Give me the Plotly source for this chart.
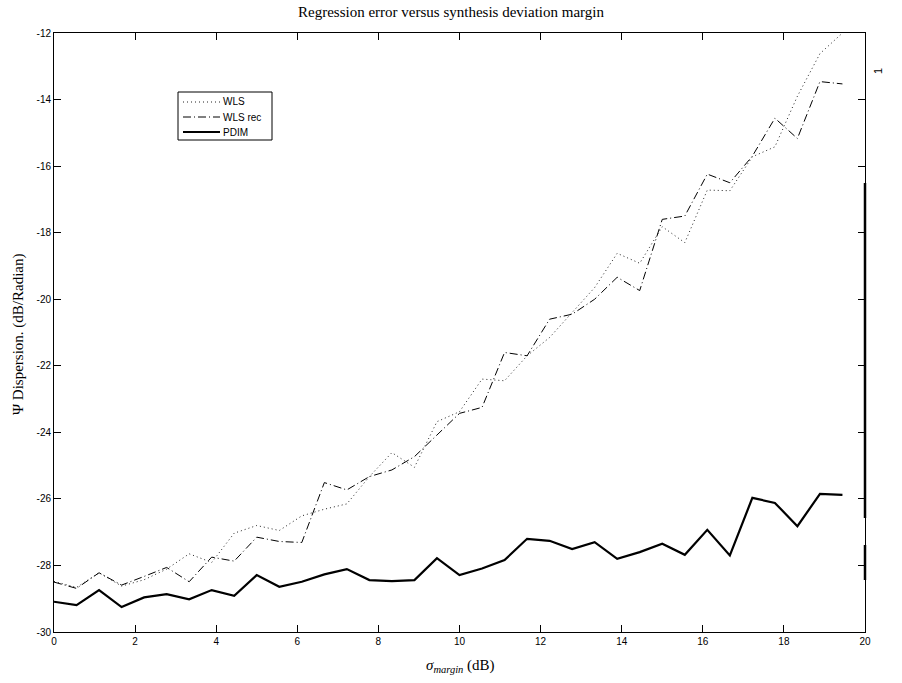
import plotly.graph_objects as go

# x positions: 36 samples from 0 to 19.44 (step 20/36)
x_vals = [0.0, 0.556, 1.111, 1.667, 2.222, 2.778, 3.333, 3.889, 4.444, 5.0,
          5.556, 6.111, 6.667, 7.222, 7.778, 8.333, 8.889, 9.444, 10.0, 10.556,
          11.111, 11.667, 12.222, 12.778, 13.333, 13.889, 14.444, 15.0, 15.556, 16.111,
          16.667, 17.222, 17.778, 18.333, 18.889, 19.444]

wls = [-28.48, -28.66, -28.22, -28.62, -28.43, -28.11, -27.65, -27.91, -27.03, -26.80,
       -26.95, -26.51, -26.31, -26.15, -25.33, -24.61, -25.05, -23.68, -23.38, -22.40,
       -22.45, -21.70, -21.15, -20.40, -19.65, -18.62, -18.92, -17.82, -18.30, -16.72,
       -16.74, -15.72, -15.42, -13.90, -12.62, -12.00]

wls_rec = [-28.50, -28.69, -28.22, -28.59, -28.33, -28.06, -28.49, -27.75, -27.87, -27.15,
           -27.28, -27.31, -25.51, -25.73, -25.33, -25.13, -24.73, -24.08, -23.43, -23.25,
           -21.60, -21.70, -20.60, -20.45, -20.00, -19.34, -19.74, -17.60, -17.50, -16.24,
           -16.50, -15.70, -14.56, -15.17, -13.46, -13.53]

pdim = [-29.09, -29.19, -28.74, -29.25, -28.96, -28.86, -29.02, -28.74, -28.91, -28.29,
        -28.64, -28.49, -28.27, -28.11, -28.44, -28.47, -28.44, -27.78, -28.29, -28.09,
        -27.84, -27.20, -27.26, -27.51, -27.30, -27.80, -27.60, -27.35, -27.68, -26.93,
        -27.70, -25.97, -26.12, -26.82, -25.85, -25.88]

series_names = ["WLS", "WLS rec", "PDIM"]

x_ticks = [0, 2, 4, 6, 8, 10, 12, 14, 16, 18, 20]
x_tick_text = ["0", "2", "4", "6", "8", "10", "12", "14", "16", "18", "20"]
y_ticks = [-30, -28, -26, -24, -22, -20, -18, -16, -14, -12]
y_tick_text = ["-30", "-28", "-26", "-24", "-22", "-20", "-18", "-16", "-14", "-12"]

# plot area in pixels (for positioning helpers)
L, R, T, B = 54, 865, 33, 632
W, H = 902, 683


def px(xp):
    return (xp - L) / (R - L)


def py(yp):
    return 1 - (yp - T) / (B - T)


line_styles = [
    dict(color="#222222", width=1, dash="1px,3px"),
    dict(color="black", width=1, dash="8px,3px,1px,3px"),
    dict(color="black", width=2.2),
]

fig = go.Figure()
for name, ys, ls in zip(series_names, [wls, wls_rec, pdim], line_styles):
    fig.add_trace(go.Scatter(x=x_vals, y=ys, mode="lines", name=name,
                             line=ls, showlegend=False))

axis_common = dict(
    showgrid=False, zeroline=False, showline=True, linecolor="black", linewidth=1,
    mirror="ticks", ticks="inside", ticklen=7, tickcolor="black", tickwidth=1,
    automargin=False,
    tickfont=dict(family="Liberation Sans, Arial, sans-serif", size=10, color="black"),
)
serif = "Liberation Serif, Times New Roman, serif"

fig.update_layout(
    width=W, height=H,
    margin=dict(l=L, r=W - R, t=T, b=H - B),
    paper_bgcolor="white", plot_bgcolor="white",
    title=dict(text="Regression error versus synthesis deviation margin",
               x=0.5, xref="container", xanchor="center",
               y=1 - 12 / H, yref="container", yanchor="middle",
               font=dict(family=serif, size=15, color="black")),
    xaxis=dict(range=[0, 20], tickvals=x_ticks, ticktext=x_tick_text, **axis_common),
    yaxis=dict(range=[-30, -12], tickvals=y_ticks, ticktext=y_tick_text, **axis_common),
    showlegend=False,
)

# axis titles
fig.add_annotation(text="<i>σ</i><sub><i>margin</i></sub> (dB)", xref="paper", yref="paper",
                   x=px(460), y=py(666), xanchor="center", yanchor="middle", showarrow=False,
                   font=dict(family=serif, size=15, color="black"))
fig.add_annotation(text="Ψ Dispersion. (dB/Radian)", xref="paper", yref="paper",
                   x=px(18), y=py(335), xanchor="center", yanchor="middle", showarrow=False,
                   textangle=-90, font=dict(family=serif, size=15, color="black"))

# manual compact legend (box, line samples, labels)
fig.add_shape(type="rect", xref="paper", yref="paper",
              x0=px(178), x1=px(272), y0=py(140), y1=py(92),
              line=dict(color="black", width=1), fillcolor="white", layer="above")
row_y = [102, 117, 132]
for name, ls, ry in zip(series_names, line_styles, row_y):
    fig.add_shape(type="line", xref="paper", yref="paper",
                  x0=px(183), x1=px(220), y0=py(ry), y1=py(ry),
                  line=ls, layer="above")
    fig.add_annotation(text=name, xref="paper", yref="paper",
                       x=px(221), y=py(ry), xanchor="left", yanchor="middle",
                       showarrow=False,
                       font=dict(family="Liberation Sans, Arial, sans-serif", size=10, color="black"))

# stray marks at the right edge of the original figure
fig.add_shape(type="line", xref="paper", yref="paper", x0=1, x1=1,
              y0=py(183), y1=py(518), line=dict(color="black", width=2.5))
fig.add_shape(type="line", xref="paper", yref="paper", x0=1, x1=1,
              y0=py(545), y1=py(580), line=dict(color="black", width=2.5))
fig.add_annotation(text="1", xref="paper", yref="paper",
                   x=px(886), y=py(66), showarrow=False, textangle=-90,
                   font=dict(family="Liberation Sans, Arial, sans-serif", size=11, color="black"))

fig.write_html("out.html")
